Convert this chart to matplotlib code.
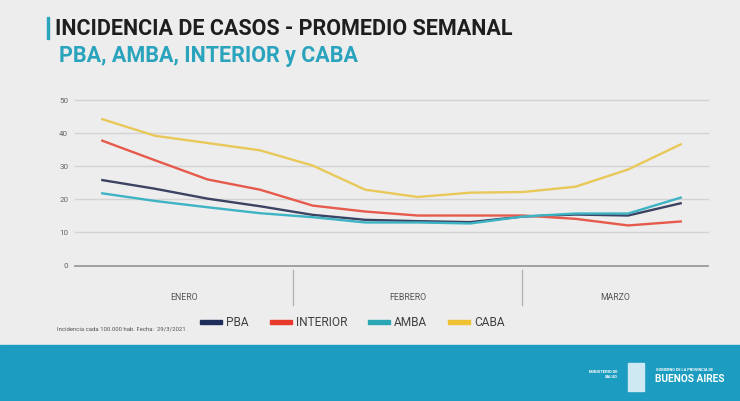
import matplotlib.pyplot as plt
from matplotlib.patches import Rectangle

# weekly average incidence (per 100.000 hab.), 12 weeks Jan-Mar 2021
weeks = list(range(12))
pba = [25.8, 23.2, 20.2, 17.9, 15.3, 13.8, 13.4, 13.1, 14.8, 15.4, 15.1, 18.8]
interior = [37.7, 31.8, 26.0, 22.9, 18.1, 16.3, 15.1, 15.1, 15.1, 14.1, 12.1, 13.3]
amba = [21.8, 19.5, 17.6, 15.8, 14.6, 13.0, 13.0, 12.7, 14.8, 15.7, 15.7, 20.5]
caba = [44.2, 39.2, 37.0, 34.8, 30.2, 22.9, 20.7, 22.0, 22.2, 23.8, 29.0, 36.6]

months = ['ENERO', 'FEBRERO', 'MARZO']
month_edges = [-0.52, 3.63, 7.99, 11.52]
yticks = [0, 10, 20, 30, 40, 50]

bg = '#ededed'
teal = '#2aa3bd'

fig = plt.figure(figsize=(7.4, 4.02), dpi=100, facecolor=bg)
ax = fig.add_axes([75 / 740, 1 - 266.5 / 402, 633 / 740, 165.5 / 402])
ax.set_facecolor(bg)

series = [
    ('PBA', pba, '#3b4262', '#1f2d5a'),
    ('INTERIOR', interior, '#e65a4c', '#e8392c'),
    ('AMBA', amba, '#3db3c4', '#2aa6b4'),
    ('CABA', caba, '#e9c85a', '#f0c233'),
]
for name, vals, c, _ in series:
    ax.plot(weeks, vals, color=c, lw=1.7, clip_on=False, zorder=3)

ax.set_xlim(month_edges[0], month_edges[-1])
ax.set_ylim(0, 50)
for y in yticks[1:]:
    ax.axhline(y, color='#d3d3d3', lw=1.0, zorder=1, clip_on=False)
ax.axhline(0, color='#9a9a9a', lw=1.3, zorder=2, clip_on=False)
for y in yticks:
    ax.text(-0.65, y, str(y), ha='right', va='center', fontsize=5.8,
            color='#666666', family='Roboto')

for s in ax.spines.values():
    s.set_visible(False)
ax.set_xticks([])
ax.set_yticks([])

# month separators and labels below the axis
for xe in month_edges[1:-1]:
    ax.plot([xe, xe], [-1.3, -12], color='#b0b0b0', lw=0.9, clip_on=False)
for i, m in enumerate(months):
    xc = (month_edges[i] + month_edges[i + 1]) / 2
    ax.text(xc, -9.3, m, ha='center', va='center', fontsize=6.3,
            color='#555555', family='Roboto')

# legend row
leg = [(200, 'PBA'), (270, 'INTERIOR'), (368, 'AMBA'), (448, 'CABA')]
for (x0, name), (_, _, _, lc) in zip(leg, series):
    fig.patches.append(Rectangle((x0 / 740, 1 - 325 / 402), 22 / 740, 4 / 402,
                                 transform=fig.transFigure, color=lc))
    fig.text((x0 + 26) / 740, 1 - 323 / 402, name, ha='left', va='center',
             fontsize=8.6, color='#404040', family='Roboto')

fig.text(57 / 740, 1 - 331 / 402, 'Incidencia cada 100.000 hab. Fecha:  29/3/2021',
         fontsize=4.3, color='#555555', family='Roboto')

# title block
fig.patches.append(Rectangle((47 / 740, 1 - 40 / 402), 2 / 740, 22 / 402,
                             transform=fig.transFigure, color=teal))
fig.text(55 / 740, 1 - 29 / 402, 'INCIDENCIA DE CASOS - PROMEDIO SEMANAL',
         ha='left', va='center', fontsize=15.5, fontweight='bold',
         color='#1e1e1e', family='Roboto')
fig.text(59 / 740, 1 - 56 / 402, 'PBA, AMBA, INTERIOR y CABA',
         ha='left', va='center', fontsize=15.5, fontweight='bold',
         color=teal, family='Roboto')

# bottom band with ministry logo text
fig.patches.append(Rectangle((0, 0), 1, 56 / 402, transform=fig.transFigure,
                             color='#1b9cc0', zorder=0))
fig.text(618 / 740, 1 - 372 / 402, 'MINISTERIO DE', ha='right', va='center',
         fontsize=3, color='white', fontweight='bold', family='Roboto')
fig.text(618 / 740, 1 - 377 / 402, 'SALUD', ha='right', va='center',
         fontsize=3, color='white', fontweight='bold', family='Roboto')
fig.patches.append(Rectangle((628 / 740, 1 - 392 / 402), 16 / 740, 28 / 402,
                             transform=fig.transFigure, color='#cfe9f2', zorder=1))
fig.text(656 / 740, 1 - 370 / 402, 'GOBIERNO DE LA PROVINCIA DE', ha='left',
         va='center', fontsize=2.8, color='white', fontweight='bold', family='Roboto')
fig.text(655 / 740, 1 - 379 / 402, 'BUENOS AIRES', ha='left', va='center',
         fontsize=7.3, color='white', fontweight='bold', family='Roboto')

fig.savefig('out.png', dpi=100, facecolor=bg)
